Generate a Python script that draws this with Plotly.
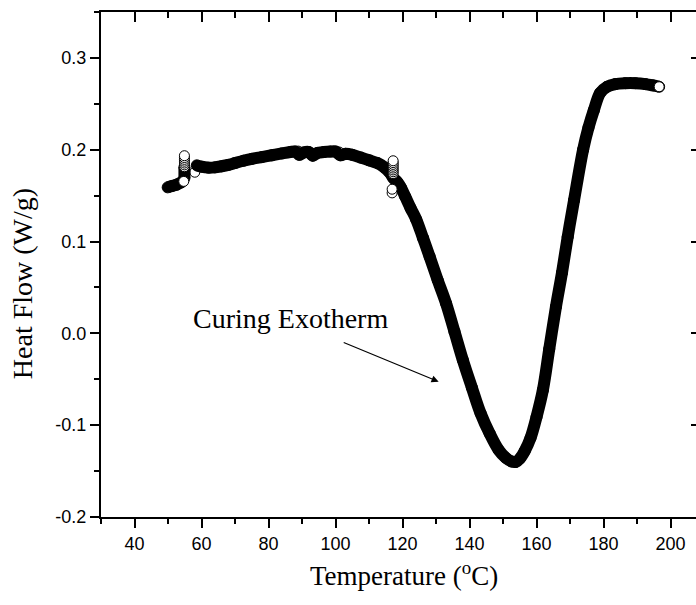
import plotly.graph_objects as go

SERIF = "Liberation Serif, Times New Roman, serif"
SANS = "Liberation Sans, Arial, sans-serif"

# DSC scan: heat flow (W/g) against temperature (deg C).
# None separates the pieces of the trace that are drawn as separate strokes.
band_temp = [
    49.9, 51.2, 52.6, 54.0, None,
    54.9, 54.9, None,
    58.6, 60.0, 62.0, 64.0, 66.0, 68.0, 70.0, 72.5, 75.0, 78.0, 81.0, 84.0,
    86.5, 88.0, 89.2, 90.5, 92.0, 93.2, 94.6, 96.5, 98.5, 100.0, 101.5, 103.0,
    105.0, 107.5, 110.0, 112.5, 114.5, 116.2, 117.3, 118.4, 119.5, 120.8,
    122.4, 124.1, 126.1, 128.1, 130.5, 133.0, 135.5, 138.0, 140.7, 143.3,
    146.0, 148.7, 150.8, 152.5, 153.8, 155.0, 156.5, 158.2, 160.0, 161.9,
    163.8, 165.8, 167.6, 169.3, 171.2, 173.9, 175.5, 177.1, 179.0, 181.0,
    183.5, 186.5, 189.5, 192.5, 194.8, 196.6,
]
band_flow = [
    0.159, 0.1605, 0.162, 0.1645, None,
    0.169, 0.181, None,
    0.183, 0.1815, 0.1805, 0.1808, 0.182, 0.1835, 0.1855, 0.188, 0.190, 0.192, 0.194, 0.196,
    0.1975, 0.198, 0.1945, 0.197, 0.1975, 0.1935, 0.1965, 0.1975, 0.198, 0.198, 0.194, 0.1955,
    0.1945, 0.1915, 0.1885, 0.1855, 0.181, 0.175, 0.169, 0.165, 0.159, 0.149,
    0.1365, 0.124, 0.104, 0.0835, 0.058, 0.0327, 0.002, -0.029, -0.059, -0.087,
    -0.109, -0.127, -0.1355, -0.1395, -0.140, -0.1365, -0.128, -0.114, -0.091, -0.0617,
    -0.017, 0.029, 0.066, 0.105, 0.145, 0.200, 0.224, 0.243, 0.262, 0.2685,
    0.2715, 0.2725, 0.2725, 0.2715, 0.270, 0.2686,
]

# Open-circle readings around the baseline glitches
ring_under_temp = [58.0, 88.9, 92.8, 101.1]
ring_under_flow = [0.1755, 0.1985, 0.1965, 0.1975]
ring_over_temp = [54.7,
                  54.9, 54.9, 54.9, 54.9, 54.9, 54.9, 54.9,
                  116.9, 116.9,
                  117.2, 117.2, 117.2, 117.2, 117.2, 117.2, 117.2, 117.2]
ring_over_flow = [0.1655,
                  0.1815, 0.1835, 0.1855, 0.1875, 0.1895, 0.1915, 0.1935,
                  0.153, 0.157,
                  0.174, 0.176, 0.178, 0.180, 0.182, 0.184, 0.186, 0.188]

x_major = [40, 60, 80, 100, 120, 140, 160, 180, 200]
y_major = [-0.2, -0.1, 0.0, 0.1, 0.2, 0.3]
y_labels = ["-0.2", "-0.1", "0.0", "0.1", "0.2", "0.3"]
x_range = [30, 207.6]
y_range = [-0.2, 0.35]

ring_marker = dict(symbol="circle", size=10, color="white",
                   line=dict(color="black", width=1))

fig = go.Figure()
fig.add_trace(go.Scatter(x=ring_under_temp, y=ring_under_flow, mode="markers",
                         marker=ring_marker, hoverinfo="skip"))
fig.add_trace(go.Scatter(
    x=band_temp, y=band_flow, mode="lines+markers", connectgaps=False,
    line=dict(color="black", width=12, shape="spline", smoothing=1.0),
    marker=dict(size=11, color="black", line=dict(color="black", width=1)),
    hoverinfo="skip"))
fig.add_trace(go.Scatter(x=ring_over_temp, y=ring_over_flow, mode="markers",
                         marker=ring_marker, hoverinfo="skip"))
# last reading of the scan
fig.add_trace(go.Scatter(x=[band_temp[-1]], y=[band_flow[-1]], mode="markers",
                         marker=ring_marker, hoverinfo="skip"))
# companion axes (top / right) carry the inward ticks
fig.add_trace(go.Scatter(x=[None], y=[None], xaxis="x2", yaxis="y2",
                         mode="markers", hoverinfo="skip"))

tickfont = dict(family=SANS, size=18, color="black")

fig.update_layout(
    width=696, height=605,
    margin=dict(l=101, r=0, t=12, b=88, pad=0),
    paper_bgcolor="white", plot_bgcolor="white",
    showlegend=False,
    xaxis=dict(
        range=x_range, tickmode="array", tickvals=x_major,
        ticks="outside", ticklen=9, tickwidth=1.5, tickcolor="black",
        showline=True, linewidth=2, linecolor="black",
        showgrid=False, zeroline=False, tickfont=tickfont,
        minor=dict(tickmode="linear", tick0=30, dtick=10, ticks="outside",
                   ticklen=5, tickwidth=1.5, tickcolor="black", showgrid=False),
    ),
    xaxis2=dict(
        range=x_range, overlaying="x", side="top", tickmode="array",
        tickvals=x_major, ticks="inside", ticklen=10, tickwidth=1.5,
        tickcolor="black", showline=True, linewidth=2, linecolor="black",
        showgrid=False, zeroline=False, showticklabels=False,
        minor=dict(tickmode="linear", tick0=30, dtick=10, ticks="inside",
                   ticklen=6, tickwidth=1.5, tickcolor="black", showgrid=False),
    ),
    yaxis=dict(
        range=y_range, tickmode="array", tickvals=y_major, ticktext=y_labels,
        ticks="outside", ticklen=9, tickwidth=1.5, tickcolor="black",
        showline=True, linewidth=2, linecolor="black",
        showgrid=False, zeroline=False, tickfont=tickfont,
        minor=dict(tickmode="linear", tick0=0, dtick=0.05, ticks="outside",
                   ticklen=5, tickwidth=1.5, tickcolor="black", showgrid=False),
    ),
    yaxis2=dict(
        range=y_range, overlaying="y", side="right", tickmode="array",
        tickvals=y_major, ticks="inside", ticklen=5, tickwidth=1.5,
        tickcolor="black", showline=False, showgrid=False, zeroline=False,
        showticklabels=False,
    ),
)

fig.add_annotation(text="Temperature (<sup>o</sup>C)", xref="paper", yref="paper",
                   x=0.51, y=-0.113, xanchor="center", yanchor="middle",
                   showarrow=False, font=dict(family=SERIF, size=27, color="black"))
fig.add_annotation(text="Heat Flow (W/g)", xref="paper", yref="paper",
                   x=-0.1328, y=0.463, xanchor="center", yanchor="middle",
                   textangle=-90, showarrow=False,
                   font=dict(family=SERIF, size=28, color="black"))
fig.add_annotation(text="Curing Exotherm", xref="x", yref="y",
                   x=86.7, y=0.0167, xanchor="center", yanchor="middle",
                   showarrow=False, font=dict(family=SERIF, size=28, color="black"))
fig.add_annotation(text="", xref="x", yref="y", axref="x", ayref="y",
                   x=130.8, y=-0.0527, ax=102.0, ay=-0.0092,
                   showarrow=True, arrowhead=2, arrowsize=1.2, arrowwidth=1.2,
                   arrowcolor="black")

fig.write_html("out.html")
